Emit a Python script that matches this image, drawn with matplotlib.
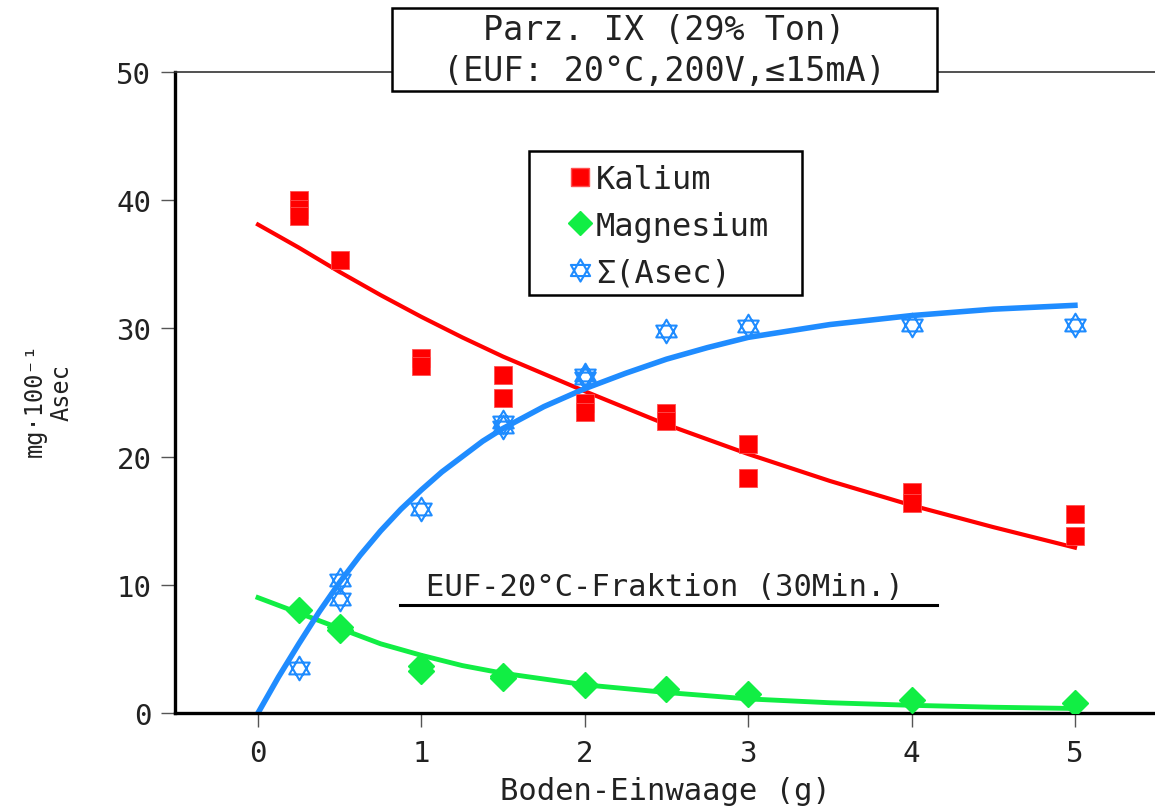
import matplotlib
matplotlib.use("Agg")
import matplotlib.pyplot as plt
from matplotlib.path import Path
from matplotlib.patches import Rectangle
from matplotlib.lines import Line2D

plt.rcParams['font.family'] = ['DejaVu Sans Mono', 'DejaVu Sans']

# measured points (Boden-Einwaage in g)
k_x = [0.25, 0.25, 0.25, 0.5, 1, 1, 1.5, 1.5, 2, 2, 2.5, 2.5, 3, 3, 4, 4, 5, 5]
k_y = [40.0, 39.3, 38.8, 35.3, 27.7, 27.1, 26.4, 24.6, 24.2, 23.5, 23.4, 22.8, 21.0, 18.3, 17.2, 16.4, 15.5, 13.8]

mg_x = [0.25, 0.5, 0.5, 1, 1, 1.5, 1.5, 2, 2.5, 3, 4, 5]
mg_y = [8.0, 6.7, 6.5, 3.7, 3.3, 2.9, 2.7, 2.2, 1.9, 1.5, 1.0, 0.8]

as_x = [0.25, 0.5, 0.5, 1, 1.5, 1.5, 2, 2, 2.5, 3, 4, 5]
as_y = [3.5, 10.4, 8.9, 15.9, 22.7, 22.3, 26.4, 26.1, 29.8, 30.2, 30.3, 30.3]

# fitted curves
k_fit_x = [0, 0.25, 0.5, 0.75, 1, 1.25, 1.5, 2, 2.5, 3, 3.5, 4, 4.5, 5]
k_fit_y = [38.1, 36.3, 34.4, 32.6, 30.9, 29.3, 27.8, 25.1, 22.5, 20.2, 18.1, 16.2, 14.5, 12.9]

mg_fit_x = [0, 0.25, 0.5, 0.75, 1, 1.25, 1.5, 2, 2.5, 3, 3.5, 4, 4.5, 5]
mg_fit_y = [9.0, 7.8, 6.6, 5.4, 4.5, 3.7, 3.1, 2.2, 1.6, 1.1, 0.8, 0.6, 0.45, 0.35]

as_fit_x = [0, 0.125, 0.25, 0.375, 0.5, 0.625, 0.75, 0.875, 1, 1.125, 1.25, 1.375,
            1.5, 1.75, 2, 2.25, 2.5, 2.75, 3, 3.5, 4, 4.5, 5]
as_fit_y = [0, 2.8, 5.4, 7.9, 10.2, 12.3, 14.2, 15.9, 17.4, 18.8, 20.0, 21.2,
            22.2, 23.9, 25.3, 26.5, 27.6, 28.5, 29.3, 30.3, 31.0, 31.5, 31.8]

x_ticks = [0, 1, 2, 3, 4, 5]
y_ticks = [0, 10, 20, 30, 40, 50]

RED = '#ff0000'
GREEN = '#11ee44'
BLUE = '#1f8cff'
TXT = '#222222'

# star of david marker
star = Path([(0, 1), (0.866, -0.5), (-0.866, -0.5), (0, 1),
             (0, -1), (0.866, 0.5), (-0.866, 0.5), (0, -1)],
            [Path.MOVETO, Path.LINETO, Path.LINETO, Path.CLOSEPOLY,
             Path.MOVETO, Path.LINETO, Path.LINETO, Path.CLOSEPOLY])

fig = plt.figure(figsize=(11.55, 8.12), dpi=100)
ax = fig.add_axes([175/1155, 98/812, 980/1155, 641/812])

ax.plot(k_fit_x, k_fit_y, color=RED, lw=3, zorder=2)
ax.plot(mg_fit_x, mg_fit_y, color=GREEN, lw=3.5, zorder=2)
ax.plot(as_fit_x, as_fit_y, color=BLUE, lw=4, zorder=2)

ax.plot(k_x, k_y, 's', color=RED, ms=13, mec='#ff5050', mew=0.6, ls='none', zorder=3)
ax.plot(mg_x, mg_y, 'D', color=GREEN, ms=13, mec=GREEN, ls='none', zorder=3)
ax.plot(as_x, as_y, marker=star, ls='none', ms=17, mfc='none', mec=BLUE, mew=1.5, zorder=3)

ax.set_xlim(-0.508, 5.49)
ax.set_ylim(0, 50)
ax.set_xticks(x_ticks)
ax.set_yticks(y_ticks)
ax.tick_params(axis='both', direction='out', length=10, width=1, color='#555555',
               labelsize=21, pad=7, labelcolor=TXT)
ax.tick_params(axis='x', pad=9)

ax.spines['right'].set_visible(False)
ax.spines['left'].set_linewidth(2.4)
ax.spines['bottom'].set_linewidth(2.4)
ax.spines['top'].set_linewidth(1.2)
ax.spines['top'].set_color('#333333')

ax.set_xlabel('Boden-Einwaage (g)', fontsize=22, color=TXT, labelpad=6)

fig.text(35/1155, 1 - 400/812, 'mg·100⁻¹', rotation=90, fontsize=17,
         ha='center', va='center', color=TXT)
fig.text(62/1155, 1 - 393/812, 'Asec', rotation=90, fontsize=17,
         ha='center', va='center', color=TXT)

# title box
fig.patches.append(Rectangle((392/1155, 1 - 92/812), 545/1155, 83/812,
                             transform=fig.transFigure, facecolor='white',
                             edgecolor='black', lw=1.8, zorder=5))
fig.text(664/1155, 1 - 31/812, 'Parz. IX (29% Ton)', fontsize=24,
         ha='center', va='center', color=TXT, zorder=6)
fig.text(664/1155, 1 - 72/812, '(EUF: 20°C,200V,≤15mA)', fontsize=24,
         ha='center', va='center', color=TXT, zorder=6)

# fraction note with underline
ax.text(0.5, 0.197, 'EUF-20°C-Fraktion (30Min.)', transform=ax.transAxes,
        fontsize=22, ha='center', va='center', color=TXT)
ax.plot([0.2296, 0.7776], [0.1685, 0.1685], transform=ax.transAxes,
        color='black', lw=2.2)

# legend: entries without frame, box drawn separately
handles = [
    Line2D([], [], marker='s', color=RED, ms=13, mec='#ff5050', ls='none'),
    Line2D([], [], marker='D', color=GREEN, ms=12, ls='none'),
    Line2D([], [], marker=star, mfc='none', mec=BLUE, mew=1.5, ms=16, ls='none'),
]
leg = ax.legend(handles, ['Kalium', 'Magnesium', 'Σ(Asec)'],
                loc='upper left', bbox_to_anchor=(564/1155, 1 - 165/812),
                bbox_transform=fig.transFigure, fontsize=23, frameon=False,
                borderaxespad=0, borderpad=0,
                handlelength=1.0, handletextpad=0.0, labelspacing=0.49)
for t in leg.get_texts():
    t.set_color(TXT)
fig.patches.append(Rectangle((529/1155, 1 - 296/812), 273/1155, 144/812,
                             transform=fig.transFigure, facecolor='none',
                             edgecolor='black', lw=1.8, zorder=5))

fig.savefig('out.png', dpi=100, facecolor='white')
